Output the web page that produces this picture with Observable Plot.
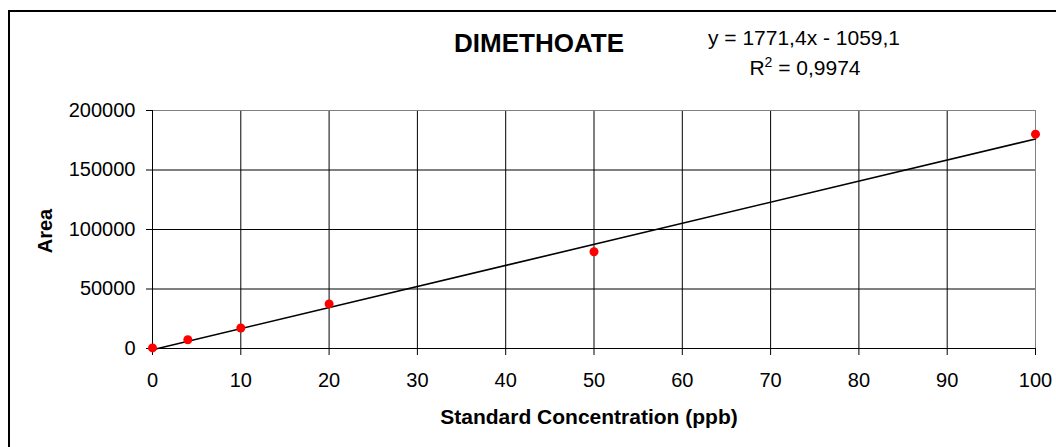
<!DOCTYPE html>
<html><head><meta charset="utf-8">
<script src="https://cdn.jsdelivr.net/npm/d3@7"></script>
<script src="https://cdn.jsdelivr.net/npm/@observablehq/plot@0.6"></script>
<style>
body{margin:0;background:#fff}
#chart{position:relative;width:1056px;height:447px;overflow:hidden;background:#fff}
#chart svg{display:block}
</style>
</head><body><div id="chart"></div>
<script>
// ---- data ----
const concentrations = [0, 4, 10, 20, 50, 100];
const areas = [500, 7400, 17200, 37500, 81300, 180100];
const trendSlope = 1771.4;
const trendIntercept = -1059.1;
const trendRange = [0, 100];
const xTicks = [0, 10, 20, 30, 40, 50, 60, 70, 80, 90, 100];
const yTicks = [0, 50000, 100000, 150000, 200000];
const chartTitle = "DIMETHOATE";
const equationText = "y = 1771,4x - 1059,1";
const r2Label = "R";
const r2Sup = "2";
const r2Value = " = 0,9974";
const xLabel = "Standard Concentration (ppb)";
const yLabel = "Area";

const points = concentrations.map((c, i) => ({x: c, y: areas[i]}));
const trend = trendRange.map(x => ({x, y: trendSlope * x + trendIntercept}));
const font = "'Liberation Sans', Arial, Helvetica, sans-serif";

const plot = Plot.plot({
  width: 1056,
  height: 447,
  marginLeft: 152,
  marginRight: 21,
  marginTop: 110,
  marginBottom: 99,
  style: {fontFamily: font, fontSize: "20px", color: "#000", background: "transparent", overflow: "hidden"},
  x: {domain: [0, 100], label: null},
  y: {domain: [0, 200000], label: null},
  marks: [
    Plot.gridX(xTicks, {stroke: "#000", strokeOpacity: 1}),
    Plot.gridY(yTicks, {stroke: "#000", strokeOpacity: 1}),
    Plot.frame({stroke: "#808080"}),
    Plot.ruleY([0], {stroke: "#000"}),
    Plot.ruleX([0], {stroke: "#000"}),
    Plot.axisX(xTicks, {tickSize: 7, tickPadding: 17, tickFormat: d => String(d), label: null, fontSize: 20}),
    Plot.axisY(yTicks, {tickSize: 6, tickPadding: 11, tickFormat: d => String(d), label: null, fontSize: 20}),
    Plot.line(trend, {x: "x", y: "y", stroke: "#000", strokeWidth: 1.6}),
    Plot.dot(points, {x: "x", y: "y", r: 4.5, fill: "#ff0000", stroke: "none"})
  ]
});

const svg = d3.select(plot);
svg.insert("rect", ":first-child")
  .attr("x", 9).attr("y", 11).attr("width", 1200).attr("height", 600)
  .attr("fill", "none").attr("stroke", "#000").attr("stroke-width", 2);

svg.append("text")
  .attr("x", 539).attr("y", 52)
  .attr("text-anchor", "middle")
  .attr("font-family", font).attr("font-weight", "bold").attr("font-size", 26)
  .attr("fill", "#000")
  .text(chartTitle);

svg.append("text")
  .attr("x", 804).attr("y", 45)
  .attr("text-anchor", "middle")
  .attr("font-family", font).attr("font-size", 21)
  .attr("fill", "#000")
  .text(equationText);

const r2 = svg.append("text")
  .attr("x", 805).attr("y", 75)
  .attr("text-anchor", "middle")
  .attr("font-family", font).attr("font-size", 21)
  .attr("fill", "#000");
r2.append("tspan").text(r2Label);
r2.append("tspan").attr("font-size", 14).attr("dy", -8).text(r2Sup);
r2.append("tspan").attr("dy", 8).text(r2Value);

svg.append("text")
  .attr("x", 589).attr("y", 424)
  .attr("text-anchor", "middle")
  .attr("font-family", font).attr("font-weight", "bold").attr("font-size", 21)
  .attr("fill", "#000")
  .text(xLabel);

svg.append("text")
  .attr("transform", "translate(52,231) rotate(-90)")
  .attr("text-anchor", "middle")
  .attr("font-family", font).attr("font-weight", "bold").attr("font-size", 20)
  .attr("fill", "#000")
  .text(yLabel);

document.getElementById("chart").appendChild(plot);
</script>
</body></html>
